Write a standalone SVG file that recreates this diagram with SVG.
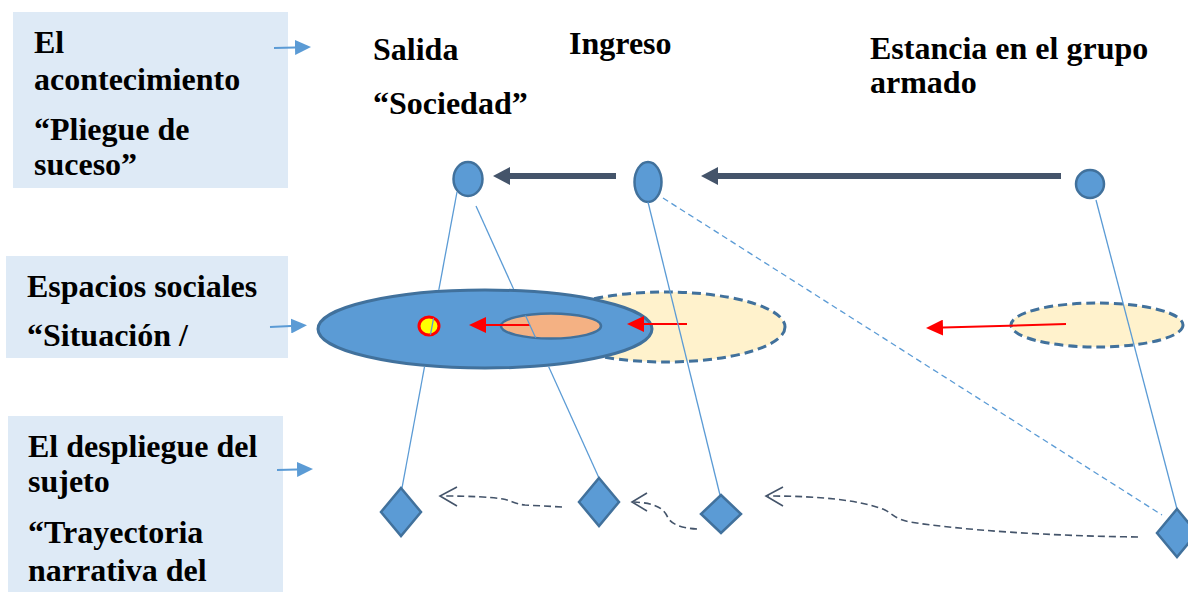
<svg xmlns="http://www.w3.org/2000/svg" width="1188" height="592" viewBox="0 0 1188 592">
<style>
.box{fill:#deeaf6;}
.t{font-family:"Liberation Serif","Times New Roman",serif;font-weight:bold;font-size:32px;fill:#000;}
.node{fill:#5b9bd5;stroke:#41719c;stroke-width:2.5;}
.cream{fill:#fff2cc;stroke:#41719c;stroke-width:3;stroke-dasharray:9 5;}
.thick{stroke:#44546a;stroke-width:6;fill:none;}
.red{stroke:#ff0000;stroke-width:2;fill:none;}
.small{stroke:#5b9bd5;stroke-width:1.8;fill:none;}
.thin{stroke:#5b9bd5;stroke-width:1.3;fill:none;}
.thindash{stroke:#5b9bd5;stroke-width:1.3;fill:none;stroke-dasharray:6 4;}
.traj{stroke:#44546a;stroke-width:1.6;fill:none;stroke-dasharray:7 4;}
.open{stroke:#44546a;stroke-width:1.6;fill:none;}
</style>
<defs>
<marker id="mThick" markerUnits="userSpaceOnUse" viewBox="0 0 17 18" markerWidth="17" markerHeight="18" refX="0" refY="9" orient="auto"><path d="M0,0 L17,9 L0,18 Z" fill="#44546a"/></marker>
<marker id="mRed" markerUnits="userSpaceOnUse" viewBox="0 0 17 16" markerWidth="17" markerHeight="16" refX="0" refY="8" orient="auto"><path d="M0,0 L17,8 L0,16 Z" fill="#ff0000"/></marker>
<marker id="mSmall" markerUnits="userSpaceOnUse" viewBox="0 0 16 15" markerWidth="16" markerHeight="15" refX="0" refY="7.5" orient="auto"><path d="M0,0 L16,7.5 L0,15 Z" fill="#5b9bd5"/></marker>
<mask id="lineMask" maskUnits="userSpaceOnUse" x="0" y="0" width="1188" height="592">
<rect x="0" y="0" width="1188" height="592" fill="#fff"/>
<ellipse cx="485" cy="329" rx="167" ry="39" fill="#000" stroke="#000" stroke-width="3"/>
<ellipse cx="551" cy="326" rx="50" ry="12.5" fill="#fff"/>
<ellipse cx="429" cy="326" rx="10" ry="9" fill="#fff"/>
</mask>
</defs>
<rect width="1188" height="592" fill="#fff"/>

<g id="label-acontecimiento">
<rect class="box" x="13" y="12" width="275" height="176"/>
<text class="t" x="34" y="53">El</text>
<text class="t" x="34" y="90">acontecimiento</text>
<text class="t" x="34" y="140">“Pliegue de</text>
<text class="t" x="34" y="175">suceso”</text>
</g>
<g id="label-espacios">
<rect class="box" x="6" y="256" width="282" height="102"/>
<text class="t" x="27" y="297">Espacios sociales</text>
<text class="t" x="27" y="346">“Situación /</text>
</g>
<g id="label-despliegue">
<rect class="box" x="8" y="416" width="275" height="176"/>
<text class="t" x="28" y="457">El despliegue del</text>
<text class="t" x="28" y="492">sujeto</text>
<text class="t" x="28" y="543">“Trayectoria</text>
<text class="t" x="28" y="581">narrativa del</text>
</g>

<g id="titles">
<text class="t" x="373" y="60">Salida</text>
<text class="t" x="373" y="114">“Sociedad”</text>
<text class="t" x="569" y="54">Ingreso</text>
<text class="t" x="870" y="59">Estancia en el grupo</text>
<text class="t" x="870" y="93">armado</text>
</g>

<g id="space-cream-1"><ellipse class="cream" cx="665" cy="327" rx="120" ry="35"/></g>
<g id="space-cream-2"><ellipse class="cream" cx="1097" cy="325" rx="86" ry="22"/></g>
<g id="space-blue"><ellipse cx="485" cy="329" rx="167" ry="39" fill="#5b9bd5" stroke="#41719c" stroke-width="3"/></g>
<g id="space-orange"><ellipse cx="551" cy="326" rx="50" ry="12.5" fill="#f4b183" stroke="#41719c" stroke-width="2.5"/></g>
<g id="subject-point"><ellipse cx="429" cy="326" rx="10" ry="9" fill="#ffff00" stroke="#ff0000" stroke-width="3"/></g>

<g id="event-salida"><ellipse class="node" cx="468" cy="179" rx="14.5" ry="17"/></g>
<g id="event-ingreso"><ellipse class="node" cx="648" cy="182" rx="13.5" ry="20"/></g>
<g id="event-estancia"><circle class="node" cx="1090" cy="184" r="14"/></g>

<g id="connectors">
<line class="small" x1="274" y1="48" x2="295" y2="47.5" marker-end="url(#mSmall)"/>
<line class="small" x1="270" y1="327" x2="291" y2="326" marker-end="url(#mSmall)"/>
<line class="small" x1="277" y1="470" x2="297" y2="469.5" marker-end="url(#mSmall)"/>

<line class="thick" x1="616" y1="176" x2="510" y2="176" marker-end="url(#mThick)"/>
<line class="thick" x1="1061" y1="176" x2="718" y2="176" marker-end="url(#mThick)"/>

<line class="red" x1="687" y1="324" x2="644" y2="324" marker-end="url(#mRed)"/>
<line class="red" x1="530" y1="325" x2="486" y2="325" marker-end="url(#mRed)"/>
<line class="red" x1="1066" y1="324" x2="943" y2="327.6" marker-end="url(#mRed)"/>

<g mask="url(#lineMask)">
<line class="thin" x1="457" y1="192" x2="402" y2="488"/>
<line class="thin" x1="476" y1="206" x2="599" y2="478"/>
</g>
<line class="thin" x1="648" y1="202" x2="720" y2="495"/>
<line class="thindash" x1="663" y1="198" x2="1162" y2="515"/>
<line class="thin" x1="1096" y1="200" x2="1177" y2="509"/>

<path class="traj" d="M562,507 L525,505 C515,504 512,501 503,499 C490,497 470,496 442,496"/>
<path class="open" d="M457,487 L440,496 L457,506"/>
<path class="traj" d="M697,529 C680,528 672,524 668,518 C664,508 655,503 634,502"/>
<path class="open" d="M647,493 L632,502 L647,511"/>
<path class="traj" d="M1138,537 C1050,536 960,530 910,522 C895,519 893,514 885,510 C860,500 820,496 768,496"/>
<path class="open" d="M783,487 L766,496 L783,506"/>
</g>

<g id="subject-1"><polygon class="node" points="401,488 421,512 401,536 381,512"/></g>
<g id="subject-2"><polygon class="node" points="599,478 619,502 599,526 579,502"/></g>
<g id="subject-3"><polygon class="node" points="721,495 741,514 721,533 701,514"/></g>
<g id="subject-4"><polygon class="node" points="1177,509 1197,533 1177,557 1157,533"/></g>
</svg>
